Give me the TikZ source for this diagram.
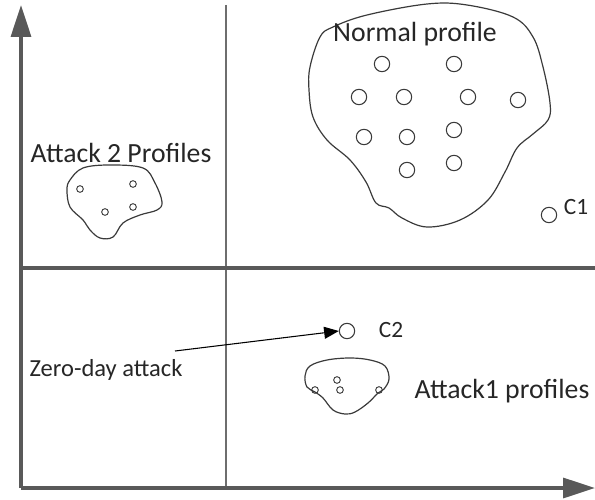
\documentclass[tikz,border=0pt]{standalone}
\usepackage{fontspec}
\setmainfont{Carlito}
\usetikzlibrary{arrows.meta}
\definecolor{axisgray}{HTML}{595959}
\definecolor{linegray}{HTML}{6E6E6E}
\definecolor{blobgray}{HTML}{3A3A3A}
\tikzset{
  axisline/.style={draw=axisgray, line width=2.5pt},
  axisarrow/.style={axisline, -{Triangle[length=24pt,width=15pt]}},
  midline/.style={draw=linegray, line width=1.1pt},
  blob/.style={draw=blobgray, line width=0.9pt},
  bigdot/.style={circle, draw=blobgray, line width=0.8pt, minimum size=11.5pt, inner sep=0pt},
  smalldot/.style={circle, draw=blobgray, line width=0.7pt, minimum size=5pt, inner sep=0pt},
  biglabel/.style={font=\fontsize{20.8}{24}\selectfont, text=black!85, inner sep=0pt, anchor=base},
  clabel/.style={font=\fontsize{17.5}{20}\selectfont, text=black!85, inner sep=0pt, anchor=base},
  zlabel/.style={font=\fontsize{18.4}{22}\selectfont, text=black!85, inner sep=0pt, anchor=base},
  pointer/.style={draw=black, line width=0.8pt, -{Triangle[length=11pt,width=9pt]}}
}
\begin{document}
\begin{tikzpicture}[x=0.75pt, y=-0.75pt]
\useasboundingbox (0,0) rectangle (595,499);
% axes
\coordinate (origin) at (21,488);
\coordinate (ytip) at (21,5);
\coordinate (xtip) at (595,488);
\coordinate (vtop) at (226,5);
\coordinate (vbot) at (226,488);
\coordinate (hleft) at (21,268);
\coordinate (hright) at (595,268);
\draw[midline] (vtop) -- (vbot);
\draw[axisline] (hleft) -- (hright);
\draw[axisarrow] (origin) -- (ytip);
\draw[axisarrow] (origin) -- (xtip);

% Normal profile blob
\draw[blob] plot[smooth cycle, tension=0.6] coordinates {
 (310,67) (320,37) (333,27) (367,15) (427,4) (467,5) (513,17) (533,37) (543,67)
 (550,103) (548,120) (533,134) (517,148) (505,172) (488,200) (460,220) (427,227)
 (402,218) (389,208) (376,203) (366,182) (350,160) (327,140) (313,117) (309,90)};
\node[biglabel] (normal) at (415,42) {Normal profile};
\node[bigdot] (n1) at (382,64) {};
\node[bigdot] (n2) at (454,64) {};
\node[bigdot] (n3) at (359,97) {};
\node[bigdot] (n4) at (404,97) {};
\node[bigdot] (n5) at (468,97) {};
\node[bigdot] (n6) at (518,100) {};
\node[bigdot] (n7) at (364,137) {};
\node[bigdot] (n8) at (407,137) {};
\node[bigdot] (n9) at (454,130) {};
\node[bigdot] (n10) at (407,170) {};
\node[bigdot] (n11) at (454,163) {};
\node[bigdot] (c1) at (549,215) {};
\node[clabel] (c1lab) at (576,214) {C1};

% Attack 2 blob
\node[biglabel] (att2) at (121,162) {Attack 2 Profiles};
\draw[blob] plot[smooth cycle, tension=0.6] coordinates {
 (70,180) (83,168) (110,165) (143,168) (155,183) (162,202) (157,210) (140,215)
 (123,223) (113,237) (100,238) (90,230) (83,220) (70,207) (67,190)};
\node[smalldot] (a21) at (80,189) {};
\node[smalldot] (a22) at (133,184) {};
\node[smalldot] (a23) at (105,212) {};
\node[smalldot] (a24) at (133,207) {};

% C2 and zero-day
\node[bigdot] (c2) at (347,331) {};
\node[clabel] (c2lab) at (391,337) {C2};
\node[zlabel] (zero) at (106,376) {Zero-day attack};
\coordinate (zstart) at (175,351);
\draw[pointer] (zstart) -- (c2.west);

% Attack1 blob
\draw[blob] plot[smooth cycle, tension=0.6] coordinates {
 (305,376) (310,366) (327,360) (350,358) (370,360) (385,366) (389,379)
 (384,389) (378,393) (368,403) (355,412) (345,414) (333,410) (323,398) (315,392) (307,387)};
\node[smalldot] (a11) at (315,390) {};
\node[smalldot] (a12) at (337,380) {};
\node[smalldot] (a13) at (340,390) {};
\node[smalldot] (a14) at (379,390) {};
\node[biglabel] (att1) at (502,398) {Attack1 profiles};
\end{tikzpicture}
\end{document}
